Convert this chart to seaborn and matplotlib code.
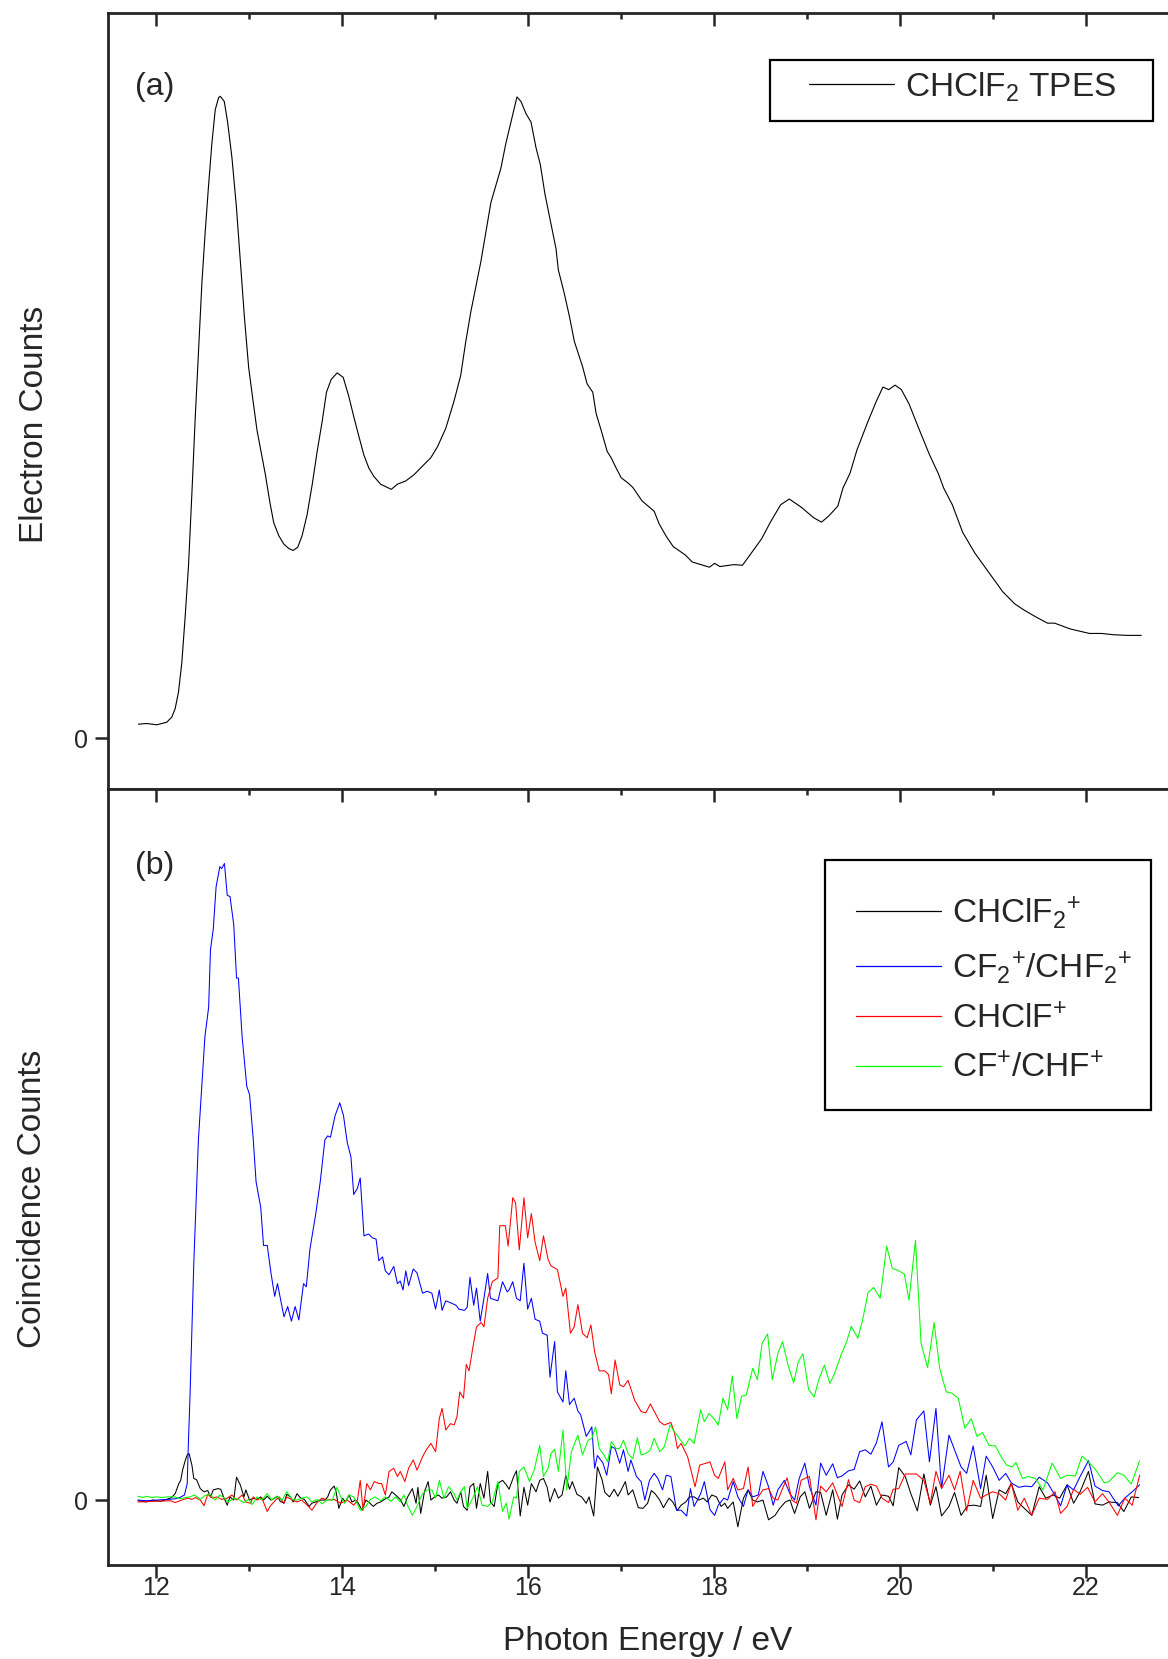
import numpy as np
import pandas as pd
import matplotlib
matplotlib.use("Agg")
import matplotlib.pyplot as plt
from matplotlib.patches import Rectangle
from matplotlib.ticker import MultipleLocator, FixedLocator
import seaborn as sns

# ---------------- data ----------------
# Panel (a): CHClF2 TPES, normalised to the first peak
tpes_energy = [11.815, 11.905, 12.013, 12.12, 12.174, 12.21, 12.246, 12.282, 12.318, 12.354,
               12.39, 12.426, 12.462, 12.498, 12.533, 12.569, 12.605, 12.641, 12.677, 12.695,
               12.738, 12.774, 12.821, 12.868, 12.911, 12.954, 13.0, 13.047, 13.09, 13.133,
               13.18, 13.227, 13.27, 13.324, 13.378, 13.432, 13.478, 13.528, 13.575, 13.629,
               13.683, 13.737, 13.79, 13.837, 13.888, 13.952, 14.017, 14.078, 14.132, 14.186,
               14.24, 14.293, 14.347, 14.419, 14.491, 14.534, 14.599, 14.689, 14.78, 14.868,
               14.958, 15.03, 15.12, 15.21, 15.28, 15.335, 15.389, 15.443, 15.497, 15.551,
               15.605, 15.658, 15.712, 15.766, 15.82, 15.885, 15.928, 15.982, 16.036, 16.09,
               16.136, 16.186, 16.251, 16.305, 16.33, 16.388, 16.449, 16.502, 16.592, 16.639,
               16.7, 16.736, 16.79, 16.855, 16.898, 16.952, 17.006, 17.078, 17.131, 17.23,
               17.36, 17.415, 17.49, 17.565, 17.695, 17.77, 17.955, 18.01, 18.067, 18.217,
               18.31, 18.42, 18.515, 18.61, 18.72, 18.813, 18.944, 19.074, 19.16, 19.24,
               19.335, 19.39, 19.466, 19.54, 19.652, 19.746, 19.82, 19.883, 19.95, 20.018,
               20.10, 20.21, 20.32, 20.417, 20.473, 20.566, 20.678, 20.808, 20.957, 21.107,
               21.237, 21.33, 21.46, 21.59, 21.666, 21.833, 22.04, 22.17, 22.30, 22.449, 22.598]
tpes_counts = [0.022, 0.023, 0.021, 0.025, 0.033, 0.046, 0.072, 0.118, 0.190, 0.269,
               0.381, 0.499, 0.604, 0.709, 0.787, 0.859, 0.925, 0.977, 0.996, 0.998,
               0.990, 0.958, 0.902, 0.827, 0.741, 0.656, 0.577, 0.525, 0.479, 0.446,
               0.410, 0.368, 0.335, 0.315, 0.302, 0.295, 0.292, 0.297, 0.315, 0.348,
               0.394, 0.446, 0.492, 0.538, 0.558, 0.568, 0.561, 0.531, 0.499, 0.469,
               0.440, 0.420, 0.407, 0.395, 0.390, 0.387, 0.395, 0.400, 0.410, 0.423,
               0.436, 0.453, 0.482, 0.525, 0.564, 0.617, 0.663, 0.702, 0.741, 0.787,
               0.833, 0.859, 0.886, 0.925, 0.958, 0.997, 0.990, 0.971, 0.958, 0.918,
               0.892, 0.846, 0.800, 0.761, 0.728, 0.695, 0.656, 0.617, 0.577, 0.551,
               0.538, 0.505, 0.479, 0.446, 0.436, 0.420, 0.405, 0.397, 0.390, 0.369,
               0.353, 0.333, 0.314, 0.298, 0.285, 0.274, 0.266, 0.272, 0.267, 0.270,
               0.269, 0.291, 0.310, 0.336, 0.363, 0.372, 0.359, 0.343, 0.336, 0.346,
               0.361, 0.389, 0.412, 0.448, 0.490, 0.523, 0.546, 0.542, 0.549, 0.542,
               0.520, 0.480, 0.441, 0.411, 0.389, 0.363, 0.320, 0.288, 0.258, 0.228,
               0.209, 0.200, 0.189, 0.179, 0.179, 0.170, 0.163, 0.163, 0.161, 0.160, 0.160]

# Panel (b): coincidence counts, normalised to the CF2+/CHF2+ maximum
parent_energy = [11.81, 11.90, 11.97, 12.05, 12.12, 12.17, 12.21, 12.25, 12.27, 12.29, 12.32, 12.34,
                 12.36, 12.39, 12.41, 12.44, 12.48, 12.52, 12.56, 12.59, 12.62, 12.67, 12.70, 12.73,
                 12.77, 12.80, 12.84, 12.87, 12.91, 12.95, 12.97, 13.01, 13.05, 13.09, 13.13, 13.16,
                 13.20, 13.24, 13.28, 13.31, 13.34, 13.38, 13.41, 13.45, 13.48, 13.52, 13.56, 13.60,
                 13.65, 13.68, 13.72, 13.77, 13.82, 13.85, 13.88, 13.92, 13.94, 13.97, 14.01, 14.04,
                 14.08, 14.11, 14.15, 14.18, 14.22, 14.26, 14.29, 14.34, 14.38, 14.42, 14.46, 14.51,
                 14.54, 14.58, 14.63, 14.67, 14.71, 14.76, 14.80, 14.82, 14.85, 14.89, 14.93, 14.96,
                 15.00, 15.04, 15.08, 15.13, 15.17, 15.21, 15.24, 15.28, 15.31, 15.35, 15.38, 15.42,
                 15.45, 15.49, 15.53, 15.57, 15.60, 15.64, 15.68, 15.73, 15.77, 15.80, 15.85, 15.88,
                 15.92, 15.96, 16.00, 16.04, 16.09, 16.13, 16.17, 16.21, 16.24, 16.29, 16.33, 16.37,
                 16.41, 16.45, 16.48, 16.53, 16.58, 16.63, 16.66, 16.71, 16.75, 16.80, 16.83, 16.88,
                 16.93, 16.97, 17.01, 17.05, 17.08, 17.13, 17.19, 17.24, 17.29, 17.33, 17.37, 17.42,
                 17.46, 17.52, 17.56, 17.61, 17.65, 17.70, 17.74, 17.79, 17.84, 17.89, 17.93, 17.98,
                 18.03, 18.08, 18.12, 18.15, 18.21, 18.26, 18.32, 18.37, 18.42, 18.47, 18.53, 18.59,
                 18.66, 18.71, 18.77, 18.82, 18.87, 18.93, 18.98, 19.03, 19.10, 19.15, 19.21, 19.28,
                 19.33, 19.38, 19.45, 19.51, 19.57, 19.63, 19.69, 19.75, 19.81, 19.88, 19.93, 19.99,
                 20.06, 20.12, 20.19, 20.26, 20.33, 20.39, 20.45, 20.53, 20.59, 20.66, 20.73, 20.80,
                 20.87, 20.93, 21.00, 21.07, 21.14, 21.20, 21.27, 21.34, 21.42, 21.50, 21.57, 21.65,
                 21.72, 21.80, 21.87, 21.94, 22.03, 22.10, 22.18, 22.25, 22.34, 22.41, 22.49, 22.57]
parent_counts = [-0.001, -0.003, 0.0, -0.002, 0.001, 0.004, 0.010, 0.026, 0.031, 0.047, 0.063, 0.071,
                 0.073, 0.055, 0.034, 0.032, 0.018, 0.013, 0.015, 0.005, 0.016, 0.018, 0.017, 0.005,
                 -0.008, 0.005, 0.0, 0.036, 0.024, 0.005, 0.016, 0.0, 0.003, 0.001, 0.005, 0.0,
                 0.006, 0.0, 0.003, 0.006, -0.002, -0.005, 0.009, 0.005, -0.003, 0.010, 0.003, 0.001,
                 -0.010, -0.005, -0.003, 0.0, 0.0, 0.005, 0.016, 0.022, 0.013, -0.013, 0.003, -0.003,
                 0.008, -0.003, 0.0, -0.005, -0.016, 0.0, -0.003, -0.010, -0.005, -0.003, 0.001, 0.005,
                 0.013, 0.008, 0.001, -0.010, 0.005, 0.018, -0.005, 0.020, -0.021, 0.013, 0.029, 0.0,
                 0.005, 0.008, 0.003, 0.005, 0.013, 0.0, -0.005, 0.013, -0.010, -0.016, 0.021, 0.026,
                 -0.013, 0.026, 0.003, 0.045, -0.003, -0.010, 0.026, 0.031, 0.024, 0.017, 0.037, 0.046,
                 -0.025, 0.020, -0.008, 0.026, 0.013, 0.031, 0.034, 0.020, -0.003, 0.018, 0.003, 0.008,
                 0.039, 0.017, 0.029, 0.009, 0.005, -0.005, 0.005, -0.025, 0.052, 0.032, 0.012, 0.005,
                 0.017, 0.006, 0.017, 0.029, 0.008, 0.016, -0.012, -0.013, -0.005, 0.015, 0.010, 0.0,
                 -0.012, 0.003, -0.003, -0.016, -0.008, -0.003, 0.005, 0.005, 0.0, 0.003, -0.003, 0.008,
                 0.005, -0.010, -0.005, -0.013, -0.003, -0.042, 0.003, 0.016, 0.0, -0.003, 0.0, -0.031,
                 -0.024, -0.013, -0.003, 0.0, -0.021, 0.005, 0.013, -0.013, 0.013, 0.012, -0.024, 0.016,
                 -0.030, 0.008, 0.024, 0.017, 0.030, 0.005, 0.022, -0.008, 0.008, 0.006, -0.009, 0.051,
                 0.037, 0.010, -0.017, 0.041, -0.008, 0.021, -0.025, -0.010, 0.012, -0.024, -0.009, -0.008,
                 -0.010, 0.039, -0.029, 0.016, 0.010, 0.026, -0.003, -0.013, -0.024, 0.021, 0.003, 0.008,
                 0.003, 0.024, -0.005, 0.013, 0.045, -0.006, -0.008, -0.003, -0.004, -0.018, 0.005, 0.004]

cf2_energy = [11.81, 11.90, 12.01, 12.12, 12.21, 12.26, 12.31, 12.34, 12.35, 12.37, 12.41, 12.46,
              12.53, 12.57, 12.59, 12.62, 12.65, 12.69, 12.71, 12.74, 12.77, 12.80, 12.84, 12.87,
              12.89, 12.93, 12.98, 13.01, 13.05, 13.08, 13.13, 13.16, 13.20, 13.24, 13.28, 13.31,
              13.34, 13.38, 13.42, 13.46, 13.50, 13.54, 13.59, 13.62, 13.66, 13.72, 13.77, 13.82,
              13.85, 13.88, 13.93, 13.98, 14.02, 14.06, 14.10, 14.13, 14.17, 14.20, 14.24, 14.29,
              14.33, 14.37, 14.40, 14.44, 14.47, 14.51, 14.56, 14.60, 14.63, 14.66, 14.69, 14.72,
              14.77, 14.81, 14.87, 14.92, 14.97, 15.01, 15.05, 15.08, 15.12, 15.17, 15.23, 15.26,
              15.32, 15.35, 15.38, 15.42, 15.45, 15.49, 15.53, 15.57, 15.60, 15.68, 15.73, 15.78,
              15.80, 15.84, 15.88, 15.92, 15.96, 16.00, 16.04, 16.08, 16.13, 16.16, 16.21, 16.24,
              16.29, 16.32, 16.38, 16.41, 16.45, 16.50, 16.54, 16.57, 16.63, 16.66, 16.69, 16.72,
              16.75, 16.81, 16.85, 16.90, 16.94, 16.99, 17.03, 17.08, 17.11, 17.17, 17.22, 17.26,
              17.31, 17.36, 17.40, 17.45, 17.49, 17.54, 17.60, 17.65, 17.71, 17.75, 17.79, 17.86,
              17.90, 17.96, 18.01, 18.05, 18.11, 18.15, 18.21, 18.26, 18.32, 18.37, 18.42, 18.48,
              18.53, 18.59, 18.64, 18.69, 18.76, 18.82, 18.87, 18.92, 18.98, 19.03, 19.10, 19.15,
              19.21, 19.28, 19.33, 19.38, 19.45, 19.51, 19.57, 19.63, 19.69, 19.75, 19.81, 19.88,
              19.93, 19.99, 20.07, 20.12, 20.18, 20.26, 20.32, 20.39, 20.45, 20.53, 20.59, 20.66,
              20.72, 20.79, 20.87, 20.93, 21.00, 21.07, 21.14, 21.20, 21.28, 21.35, 21.42, 21.50,
              21.59, 21.66, 21.73, 21.80, 21.87, 21.94, 22.03, 22.10, 22.18, 22.25, 22.35, 22.42,
              22.50, 22.58]
cf2_counts = [0.0, -0.001, 0.0, 0.001, 0.002, 0.004, 0.008, 0.026, 0.079, 0.165, 0.370, 0.566,
              0.728, 0.774, 0.865, 0.897, 0.963, 0.995, 0.992, 1.0, 0.950, 0.948, 0.904, 0.820,
              0.820, 0.728, 0.650, 0.637, 0.566, 0.500, 0.460, 0.400, 0.400, 0.357, 0.320, 0.340,
              0.318, 0.288, 0.304, 0.281, 0.304, 0.283, 0.340, 0.335, 0.395, 0.448, 0.500, 0.566,
              0.572, 0.570, 0.604, 0.624, 0.604, 0.562, 0.539, 0.480, 0.490, 0.506, 0.415, 0.418,
              0.412, 0.410, 0.376, 0.382, 0.360, 0.354, 0.367, 0.340, 0.344, 0.330, 0.360, 0.337,
              0.363, 0.357, 0.325, 0.328, 0.325, 0.300, 0.330, 0.298, 0.313, 0.310, 0.306, 0.300,
              0.298, 0.303, 0.350, 0.306, 0.333, 0.281, 0.317, 0.356, 0.317, 0.313, 0.343, 0.327,
              0.330, 0.343, 0.317, 0.313, 0.372, 0.300, 0.317, 0.284, 0.281, 0.262, 0.259, 0.193,
              0.249, 0.170, 0.154, 0.203, 0.150, 0.160, 0.140, 0.134, 0.100, 0.107, 0.115, 0.050,
              0.070, 0.058, 0.039, 0.084, 0.081, 0.058, 0.079, 0.045, 0.063, 0.037, 0.029, 0.0,
              0.031, 0.042, 0.034, 0.016, 0.039, 0.037, -0.016, -0.016, -0.025, 0.018, -0.010, 0.010,
              0.029, -0.015, -0.024, -0.008, 0.003, 0.0, 0.029, 0.005, -0.010, 0.016, 0.005, 0.008,
              0.045, 0.021, -0.008, 0.016, 0.031, 0.010, 0.0, 0.034, 0.058, 0.021, -0.008, 0.058,
              0.039, 0.057, 0.035, 0.038, 0.046, 0.048, 0.076, 0.079, 0.072, 0.090, 0.123, 0.052,
              0.060, 0.086, 0.092, 0.071, 0.126, 0.140, 0.060, 0.144, 0.018, 0.102, 0.079, 0.052,
              0.042, 0.085, 0.018, 0.069, 0.052, 0.031, 0.042, 0.027, 0.020, 0.022, 0.021, 0.036,
              0.027, 0.010, -0.009, 0.024, 0.016, 0.037, 0.062, 0.022, 0.015, 0.013, -0.009, 0.003,
              0.013, 0.024]

chclf_energy = [11.81, 11.98, 12.16, 12.21, 12.30, 12.35, 12.39, 12.43, 12.48, 12.52, 12.56, 12.61,
                12.66, 12.71, 12.77, 12.82, 12.87, 12.93, 12.97, 13.02, 13.05, 13.09, 13.14, 13.20,
                13.23, 13.29, 13.33, 13.38, 13.41, 13.47, 13.52, 13.57, 13.63, 13.68, 13.74, 13.79,
                13.84, 13.92, 13.99, 14.06, 14.13, 14.17, 14.20, 14.23, 14.27, 14.31, 14.35, 14.40,
                14.43, 14.47, 14.51, 14.56, 14.60, 14.63, 14.68, 14.72, 14.77, 14.81, 14.87, 14.91,
                14.96, 15.01, 15.05, 15.08, 15.12, 15.17, 15.21, 15.24, 15.27, 15.31, 15.34, 15.37,
                15.41, 15.45, 15.50, 15.53, 15.57, 15.62, 15.68, 15.70, 15.76, 15.79, 15.84, 15.87,
                15.91, 15.96, 16.00, 16.04, 16.08, 16.13, 16.17, 16.22, 16.25, 16.32, 16.38, 16.41,
                16.46, 16.50, 16.54, 16.59, 16.64, 16.68, 16.72, 16.77, 16.83, 16.87, 16.90, 16.94,
                16.99, 17.03, 17.08, 17.15, 17.22, 17.27, 17.32, 17.42, 17.47, 17.54, 17.58, 17.61,
                17.65, 17.72, 17.80, 17.85, 17.92, 17.96, 18.01, 18.05, 18.12, 18.15, 18.21, 18.26,
                18.32, 18.37, 18.42, 18.47, 18.53, 18.59, 18.64, 18.69, 18.74, 18.79, 18.84, 18.89,
                18.94, 18.98, 19.03, 19.10, 19.15, 19.21, 19.28, 19.33, 19.38, 19.45, 19.51, 19.57,
                19.63, 19.69, 19.75, 19.81, 19.88, 19.93, 19.99, 20.06, 20.12, 20.18, 20.26, 20.33,
                20.39, 20.45, 20.53, 20.59, 20.65, 20.72, 20.79, 20.87, 20.93, 21.00, 21.07, 21.14,
                21.20, 21.27, 21.34, 21.42, 21.50, 21.59, 21.67, 21.73, 21.80, 21.87, 21.94, 22.02,
                22.10, 22.18, 22.25, 22.34, 22.42, 22.50, 22.58]
chclf_counts = [-0.003, -0.002, -0.001, -0.004, 0.001, 0.003, 0.001, 0.004, 0.0, -0.009, 0.009, 0.003,
                0.005, 0.001, 0.003, 0.008, 0.0, 0.008, -0.003, -0.005, 0.005, 0.0, 0.004, -0.018,
                -0.010, 0.0, 0.005, -0.005, 0.005, 0.0, -0.003, 0.0, -0.008, -0.016, -0.003, 0.003,
                0.0, 0.001, -0.005, 0.0, -0.008, 0.0, 0.031, -0.016, 0.026, 0.016, 0.029, 0.026,
                0.026, 0.008, 0.045, 0.050, 0.037, 0.045, 0.029, 0.050, 0.063, 0.047, 0.068, 0.079,
                0.089, 0.076, 0.128, 0.144, 0.110, 0.120, 0.118, 0.131, 0.170, 0.160, 0.213, 0.203,
                0.239, 0.272, 0.279, 0.272, 0.317, 0.343, 0.349, 0.431, 0.431, 0.399, 0.475, 0.467,
                0.393, 0.475, 0.412, 0.450, 0.405, 0.376, 0.415, 0.378, 0.368, 0.362, 0.320, 0.333,
                0.262, 0.272, 0.307, 0.262, 0.255, 0.275, 0.233, 0.203, 0.203, 0.197, 0.167, 0.220,
                0.181, 0.178, 0.188, 0.157, 0.139, 0.137, 0.151, 0.123, 0.118, 0.122, 0.105, 0.081,
                0.089, 0.068, 0.021, 0.055, 0.058, 0.060, 0.039, 0.034, 0.060, 0.016, 0.034, 0.016,
                0.018, 0.052, -0.010, 0.003, 0.016, 0.018, 0.003, 0.0, 0.018, 0.035, 0.0, -0.005,
                0.031, 0.034, 0.037, -0.031, 0.022, 0.013, 0.027, 0.008, -0.010, 0.032, 0.0, -0.004,
                0.021, 0.025, 0.022, 0.003, -0.004, 0.017, 0.018, 0.041, 0.041, 0.041, 0.031, -0.005,
                0.045, 0.018, 0.039, 0.016, 0.045, -0.017, 0.031, 0.003, 0.008, 0.013, 0.010, 0.0,
                0.027, -0.016, 0.003, -0.024, 0.003, 0.001, 0.013, -0.021, -0.010, 0.017, 0.009, 0.020,
                -0.003, 0.010, -0.003, -0.024, 0.003, -0.008, 0.039]

cf_energy = [11.81, 11.87, 11.90, 11.96, 12.01, 12.07, 12.12, 12.21, 12.26, 12.32, 12.37, 12.42,
             12.48, 12.53, 12.59, 12.64, 12.69, 12.73, 12.78, 12.84, 12.89, 12.95, 13.00, 13.04,
             13.09, 13.14, 13.20, 13.25, 13.30, 13.36, 13.41, 13.47, 13.52, 13.57, 13.63, 13.68,
             13.74, 13.79, 13.84, 13.90, 13.95, 13.99, 14.03, 14.08, 14.13, 14.20, 14.26, 14.31,
             14.36, 14.42, 14.47, 14.53, 14.58, 14.63, 14.67, 14.71, 14.76, 14.81, 14.87, 14.92,
             14.97, 15.01, 15.05, 15.10, 15.15, 15.21, 15.24, 15.28, 15.32, 15.35, 15.41, 15.46,
             15.51, 15.57, 15.62, 15.68, 15.73, 15.77, 15.80, 15.85, 15.88, 15.91, 15.96, 16.02,
             16.07, 16.13, 16.17, 16.22, 16.25, 16.29, 16.33, 16.38, 16.42, 16.47, 16.54, 16.59,
             16.65, 16.69, 16.73, 16.77, 16.82, 16.86, 16.90, 16.95, 16.99, 17.03, 17.08, 17.13,
             17.18, 17.22, 17.27, 17.32, 17.36, 17.42, 17.47, 17.53, 17.58, 17.63, 17.69, 17.74,
             17.79, 17.86, 17.90, 17.95, 18.00, 18.05, 18.10, 18.15, 18.20, 18.25, 18.30, 18.35,
             18.42, 18.47, 18.52, 18.58, 18.63, 18.69, 18.74, 18.80, 18.86, 18.91, 18.96, 19.02,
             19.08, 19.13, 19.19, 19.25, 19.30, 19.37, 19.43, 19.48, 19.55, 19.60, 19.66, 19.72,
             19.79, 19.86, 19.92, 19.98, 20.05, 20.10, 20.17, 20.23, 20.30, 20.37, 20.43, 20.50,
             20.56, 20.63, 20.70, 20.77, 20.83, 20.89, 20.96, 21.03, 21.09, 21.15, 21.21, 21.25,
             21.32, 21.38, 21.46, 21.54, 21.64, 21.73, 21.80, 21.89, 21.96, 22.03, 22.11, 22.20,
             22.25, 22.34, 22.41, 22.49, 22.58]
cf_counts = [0.006, 0.004, 0.006, 0.004, 0.005, 0.004, 0.005, 0.005, 0.002, 0.004, 0.005, 0.008,
             0.001, 0.007, 0.009, 0.0, 0.008, 0.004, -0.003, 0.003, 0.001, -0.004, 0.001, -0.007,
             0.005, 0.0, 0.010, 0.0, 0.006, 0.0, 0.013, 0.001, 0.0, 0.003, 0.005, -0.003,
             0.001, -0.006, 0.0, 0.0, 0.020, 0.005, -0.005, 0.008, 0.005, -0.016, -0.010, 0.001,
             0.005, -0.001, 0.005, -0.002, 0.005, -0.003, 0.008, -0.009, -0.024, -0.010, 0.010, 0.016,
             0.016, 0.003, 0.031, 0.003, 0.021, 0.010, 0.0, 0.013, 0.021, -0.013, 0.003, 0.021,
             -0.008, -0.010, -0.003, 0.029, -0.018, -0.005, -0.030, 0.005, 0.003, 0.045, 0.052, 0.029,
             0.047, 0.086, 0.037, 0.050, 0.073, 0.080, 0.045, 0.110, 0.016, 0.076, 0.102, 0.071,
             0.094, 0.097, 0.115, 0.081, 0.071, 0.060, 0.092, 0.081, 0.081, 0.094, 0.073, 0.065,
             0.098, 0.071, 0.073, 0.079, 0.097, 0.076, 0.084, 0.118, 0.107, 0.097, 0.085, 0.097,
             0.089, 0.142, 0.123, 0.136, 0.128, 0.118, 0.160, 0.142, 0.195, 0.128, 0.163, 0.165,
             0.207, 0.189, 0.246, 0.261, 0.189, 0.230, 0.249, 0.212, 0.184, 0.217, 0.230, 0.174,
             0.162, 0.189, 0.212, 0.183, 0.199, 0.228, 0.249, 0.273, 0.254, 0.282, 0.326, 0.334,
             0.317, 0.399, 0.364, 0.361, 0.355, 0.314, 0.408, 0.246, 0.208, 0.279, 0.207, 0.170,
             0.168, 0.160, 0.113, 0.128, 0.100, 0.106, 0.086, 0.085, 0.068, 0.055, 0.052, 0.059,
             0.034, 0.037, 0.034, 0.016, 0.058, 0.034, 0.039, 0.038, 0.069, 0.060, 0.047, 0.027,
             0.029, 0.043, 0.039, 0.025, 0.062]

tpes_label = "CHClF$_2$ TPES"
ion_labels = ["CHClF$_2$$^{+}$", "CF$_2$$^{+}$/CHF$_2$$^{+}$", "CHClF$^{+}$", "CF$^{+}$/CHF$^{+}$"]
ion_colors = ["#000000", "#0000ff", "#ff0000", "#00ff00"]
x_major_ticks = [12, 14, 16, 18, 20, 22]

# ---------------- styling ----------------
sns.set_style("ticks")
plt.rcParams["font.family"] = ["Liberation Sans", "DejaVu Sans"]
plt.rcParams["mathtext.fontset"] = "custom"
plt.rcParams["mathtext.rm"] = "Liberation Sans"
plt.rcParams["mathtext.it"] = "Liberation Sans:italic"
plt.rcParams["mathtext.bf"] = "Liberation Sans:bold"
plt.rcParams["axes.linewidth"] = 2.0

W, H = 1168, 1659
fig = plt.figure(figsize=(W / 100, H / 100), dpi=100)

left = 108 / W
width = 1 - left + 0.002
a_top, a_bot = 13.3, 789
b_top, b_bot = 789, 1565
ax_a = fig.add_axes([left, 1 - a_bot / H, width, (a_bot - a_top) / H])
ax_b = fig.add_axes([left, 1 - b_bot / H, width, (b_bot - b_top) / H])

XLIM = (11.488, 22.91)

# panel (a)
sns.lineplot(x=tpes_energy, y=tpes_counts, ax=ax_a, color="black", lw=0.8,
             sort=False, estimator=None, label=tpes_label)
# panel (b)
series = [(parent_energy, parent_counts), (cf2_energy, cf2_counts),
          (chclf_energy, chclf_counts), (cf_energy, cf_counts)]
for (e, c), lab, col in zip(series, ion_labels, ion_colors):
    sns.lineplot(x=e, y=c, ax=ax_b, color=col, lw=0.75, sort=False,
                 estimator=None, label=lab)

ax_a.set_ylim(-0.0788, 1.127)
ax_b.set_ylim(-0.102, 1.117)

for ax in (ax_a, ax_b):
    ax.set_xlim(*XLIM)
    ax.xaxis.set_major_locator(FixedLocator(x_major_ticks))
    ax.xaxis.set_minor_locator(MultipleLocator(1))
    ax.set_yticks([0])
    ax.set_yticklabels(["0"])
    ax.spines["right"].set_visible(False)
    for s in ("left", "top", "bottom"):
        ax.spines[s].set_linewidth(2.0)
    ax.tick_params(axis="y", which="major", direction="out", length=9.5, width=1.8,
                   labelsize=18, pad=5, left=True, right=False)
    ax.tick_params(axis="y", which="minor", left=False, right=False)

ax_a.tick_params(axis="x", which="major", top=True, bottom=False, direction="in",
                 length=9, width=1.8, labelbottom=False, labeltop=False)
ax_a.tick_params(axis="x", which="minor", top=True, bottom=False, direction="in",
                 length=4.5, width=1.8)
ax_b.tick_params(axis="x", which="major", top=True, bottom=True, direction="in",
                 length=9, width=1.8, labelbottom=True, labeltop=False, labelsize=18, pad=8)
ax_b.tick_params(axis="x", which="minor", top=True, bottom=True, direction="in",
                 length=4.5, width=1.8)
# bottom ticks of panel (b) point outwards
for t in ax_b.xaxis.get_major_ticks():
    t.tick1line.set_marker(3)  # TICKDOWN
for t in ax_b.xaxis.get_minor_ticks():
    t.tick1line.set_marker(3)

ax_a.set_xlabel("")
ax_b.set_xlabel("Photon Energy / eV", fontsize=24)
ax_b.xaxis.set_label_coords(0.5075, -0.079)
ax_a.set_ylabel("Electron Counts", fontsize=24)
ax_b.set_ylabel("Coincidence Counts", fontsize=24)
ax_a.yaxis.set_label_coords(-0.0547, 0.4705)
ax_b.yaxis.set_label_coords(-0.0566, 0.4716)

ax_a.text(0.0255, 0.905, "(a)", transform=ax_a.transAxes, fontsize=23, ha="left", va="center")
ax_b.text(0.0255, 0.9008, "(b)", transform=ax_b.transAxes, fontsize=23, ha="left", va="center")

# legends (frameless) plus drawn boxes
leg_a = ax_a.legend(loc="center left", bbox_to_anchor=(0.6594, 0.9052), frameon=False,
                    fontsize=24, handlelength=2.55, handletextpad=0.35, borderpad=0,
                    borderaxespad=0)
leg_b = ax_b.legend(loc="center left", bbox_to_anchor=(0.7038, 0.742), frameon=False,
                    fontsize=24, handlelength=2.55, handletextpad=0.35, borderpad=0,
                    borderaxespad=0, labelspacing=0.54)
for lg in (leg_a, leg_b):
    for ln in lg.get_lines():
        ln.set_linewidth(0.9)

ax_a.add_patch(Rectangle((0.6236, 0.8612), 0.3604, 0.0786, transform=ax_a.transAxes,
                         fill=False, lw=1.6, ec="black", clip_on=False, zorder=5))
ax_b.add_patch(Rectangle((0.6745, 0.5863), 0.3075, 0.3222, transform=ax_b.transAxes,
                         fill=False, lw=1.6, ec="black", clip_on=False, zorder=5))

fig.savefig("out.png", dpi=100)
